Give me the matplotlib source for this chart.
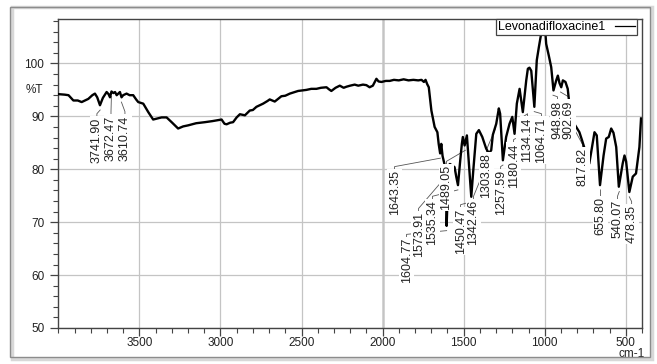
import matplotlib.pyplot as plt
import numpy as np
from matplotlib.patches import Rectangle
from matplotlib.ticker import FixedLocator, MultipleLocator

plt.rcParams['font.family'] = ['Liberation Sans', 'DejaVu Sans']

# IR spectrum (cm-1, %T)
wn = [4000, 3960, 3937, 3907, 3880, 3856, 3815, 3790, 3774, 3760, 3743, 3725,
      3702, 3690, 3681, 3672, 3660, 3650, 3640, 3620, 3610, 3600, 3579, 3560,
      3538, 3520, 3507, 3476, 3445, 3415, 3390, 3363, 3332, 3301, 3261, 3230,
      3199, 3150, 3096, 3050, 2993, 2975, 2962, 2940, 2922, 2900, 2880, 2865,
      2849, 2819, 2800, 2778, 2737, 2710, 2696, 2665, 2624, 2600, 2572, 2521,
      2470, 2440, 2408, 2380, 2346, 2330, 2316, 2290, 2264, 2240, 2223, 2200,
      2172, 2150, 2121, 2100, 2080, 2060, 2038, 2025, 2007, 1980, 1956, 1930,
      1900, 1870, 1840, 1810, 1780, 1760, 1745, 1735, 1725, 1715, 1699, 1679,
      1662, 1654, 1645, 1638, 1630, 1617, 1608, 1605, 1602, 1597, 1585, 1556,
      1545, 1535, 1521, 1511, 1505, 1494, 1480, 1465, 1453, 1440, 1422, 1406,
      1385, 1361, 1344, 1330, 1320, 1299, 1283, 1275, 1258, 1238, 1217, 1200,
      1186, 1172, 1155, 1135, 1114, 1104, 1094, 1083, 1064, 1049, 1036, 1022,
      1012, 1001, 991, 975, 960, 946, 929, 919, 909, 898, 888, 872,
      858, 847, 816, 786, 770, 745, 725, 693, 679, 659, 637, 621,
      605, 590, 576, 559, 543, 519, 508, 498, 478, 457, 437, 416, 406]
pct_t = [94.2, 94.1, 94.0, 93.0, 93.0, 92.7, 93.3, 94.0, 94.3, 93.6, 92.1, 93.5,
         94.6, 94.2, 93.6, 94.7, 94.4, 94.6, 94.0, 94.6, 93.6, 94.0, 94.3, 94.0,
         94.0, 93.2, 92.7, 92.4, 90.8, 89.4, 89.6, 89.8, 89.8, 88.9, 87.7, 88.1,
         88.3, 88.7, 88.9, 89.1, 89.4, 88.6, 88.5, 88.8, 88.9, 89.8, 90.4, 90.3,
         90.2, 91.1, 91.2, 91.8, 92.4, 92.9, 93.2, 92.8, 93.8, 93.9, 94.3, 94.8,
         95.0, 95.2, 95.2, 95.4, 95.5, 95.1, 94.8, 95.4, 95.8, 95.4, 95.6, 95.8,
         96.0, 95.8, 96.0, 95.9, 95.5, 95.8, 97.1, 96.6, 96.5, 96.7, 96.7, 96.9,
         96.8, 97.0, 96.8, 96.9, 96.8, 96.9, 96.5, 96.9, 96.1, 95.5, 91.1, 88.0,
         87.0, 84.8, 83.0, 84.8, 82.5, 80.8, 76.0, 69.3, 72.0, 80.5, 81.0, 80.4,
         78.5, 77.0, 81.7, 84.8, 86.1, 84.5, 86.4, 80.0, 74.8, 80.0, 86.7, 87.4,
         86.1, 83.9, 83.0, 83.6, 86.5, 88.6, 91.5, 90.5, 81.7, 86.1, 88.6, 89.9,
         86.7, 92.4, 95.2, 90.8, 96.8, 99.0, 99.2, 98.6, 91.8, 100.6, 103.1, 105.6,
         108.0, 108.0, 103.7, 101.5, 99.3, 94.9, 96.8, 97.7, 96.3, 95.5, 96.8, 96.5,
         95.2, 92.0, 88.5, 87.0, 85.5, 83.0, 81.1, 87.0, 86.4, 77.0, 82.6, 85.8,
         86.1, 87.7, 86.9, 84.2, 76.7, 81.1, 82.6, 81.5, 75.7, 78.6, 79.2, 84.2, 89.6]

# peak labels
peaks = [3741.90, 3672.47, 3610.74, 1643.35, 1604.77, 1573.91, 1535.34, 1489.05,
         1450.47, 1342.46, 1303.88, 1257.59, 1180.44, 1134.14, 1064.71, 948.98,
         902.69, 817.82, 655.80, 540.07, 478.35]
# where each label text sits (x of text, top of text)
label_x = [3762, 3675, 3589, 1926, 1852, 1778, 1692, 1606, 1519, 1439, 1359,
           1272, 1192, 1106, 1020, 921, 853, 767, 656, 551, 464]
label_top = [89.8, 90.2, 90.2, 79.8, 67.0, 71.9, 74.2, 80.8, 72.6, 74.2, 83.0,
             79.8, 84.9, 89.8, 89.8, 93.0, 93.0, 84.0, 74.7, 74.2, 73.2]

fig = plt.figure(figsize=(6.57, 3.64), dpi=100)
fig.patches.append(Rectangle((12 / 657, 5 / 364), 640 / 657, 352 / 364,
                             transform=fig.transFigure, fill=False,
                             ec='#d8d8d8', lw=2.5, zorder=0))
fig.patches.append(Rectangle((10 / 657, 7 / 364), 640 / 657, 350 / 364,
                             transform=fig.transFigure, fill=False,
                             ec='#8c8c8c', lw=1.0, zorder=0))
ax = fig.add_axes([58.3 / 657, 36 / 364, 583.7 / 657, 309 / 364])

wn_a = np.array(wn)
t_a = np.array(pct_t)
ax.plot(wn_a, t_a, color='black', lw=1.7, label='Levonadifloxacine1', zorder=3)

for p, lx, top in zip(peaks, label_x, label_top):
    near = np.abs(wn_a - p) <= 8
    if near.any():
        py = t_a[near].min()
    else:
        py = np.interp(-p, -wn_a, t_a)
    py = py - 0.9
    ax.plot([lx, lx, p], [top, top + 0.7, py], color='#555555', lw=0.6, zorder=2)
    ax.text(lx, top, '%.2f' % p, rotation=90, ha='center', va='top',
            fontsize=9, color='#222222', zorder=4,
            bbox=dict(boxstyle='square,pad=0.1', fc='white', ec='none'))

ax.set_xlim(4000, 400)
ax.set_ylim(50, 108.4)
ax.xaxis.set_major_locator(FixedLocator([3500, 3000, 2500, 2000, 1500, 1000, 500]))
ax.xaxis.set_minor_locator(MultipleLocator(100))
ax.yaxis.set_major_locator(FixedLocator([50, 60, 70, 80, 90, 100]))
ax.yaxis.set_minor_locator(MultipleLocator(2))
ax.tick_params(which='major', direction='out', length=5.5, width=0.9,
               colors='#444444', labelsize=8.5, labelcolor='#222222')
ax.tick_params(which='minor', direction='out', length=3.5, width=0.8, colors='#444444')
ax.tick_params(axis='x', which='major', pad=1.0)
ax.tick_params(axis='y', which='major', pad=4.5)
ax.grid(True, which='major', color='#c4c4c4', lw=0.9)
ax.axvline(2000, color='#333333', lw=1.0, zorder=1)
for s in ax.spines.values():
    s.set_color('#444444')
    s.set_linewidth(1.0)

ax.text(-0.026, 95.0, '%T', transform=ax.get_yaxis_transform(), ha='right',
        va='center', fontsize=8.5, color='#222222')
ax.text(0.983, -0.085, 'cm-1', transform=ax.transAxes, ha='center', va='center',
        fontsize=8.5, color='#222222')

leg = ax.legend(loc='upper right', bbox_to_anchor=(0.992, 1.0), borderaxespad=0,
                markerfirst=False, fancybox=False, framealpha=1, fontsize=9,
                borderpad=0.15, handlelength=1.6, handletextpad=0.8)
leg.get_frame().set_edgecolor('#444444')
leg.get_frame().set_linewidth(0.9)
leg.get_lines()[0].set_linewidth(0.9)

fig.savefig('out.png', dpi=100)
